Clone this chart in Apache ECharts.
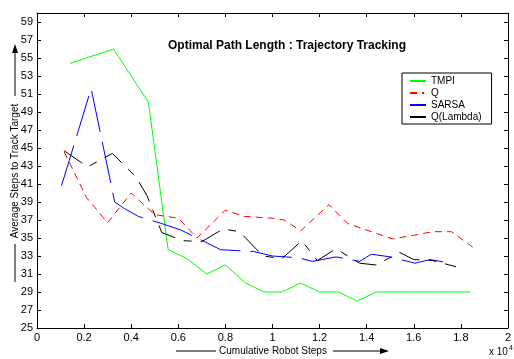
<!DOCTYPE html>
<html>
<head>
<meta charset="utf-8">
<script src="https://cdn.jsdelivr.net/npm/echarts@6/dist/echarts.min.js"></script>
<style>
  html, body { margin: 0; padding: 0; background: #fff; }
  #chart { width: 514px; height: 359px; }
</style>
</head>
<body>
<div id="chart"></div>
<script>
// x values are in units of 10^4 robot steps
const tmpiX = [0.14, 0.325, 0.473, 0.557, 0.637, 0.721, 0.80, 0.886, 0.964, 1.04, 1.12, 1.20, 1.28, 1.36, 1.44, 1.52, 1.60, 1.68, 1.76, 1.84];
const tmpiY = [54.4, 56.0, 50.1, 33.7, 32.7, 31.0, 32.0, 30.0, 29.0, 29.0, 30.0, 29.0, 29.0, 28.0, 29.0, 29.0, 29.0, 29.0, 29.0, 29.0];

const qX = [0.115, 0.21, 0.30, 0.40, 0.50, 0.60, 0.68, 0.80, 0.88, 1.00, 1.05, 1.12, 1.24, 1.32, 1.42, 1.51, 1.60, 1.68, 1.76, 1.85];
const qY = [44.6, 39.5, 36.7, 40.0, 37.6, 37.2, 35.0, 38.1, 37.4, 37.2, 37.0, 35.8, 38.7, 36.6, 35.7, 34.9, 35.3, 35.7, 35.7, 34.0];

const sarsaX = [0.104, 0.23, 0.33, 0.37, 0.43, 0.53, 0.61, 0.68, 0.78, 0.85, 0.92, 1.00, 1.11, 1.17, 1.27, 1.37, 1.42, 1.50, 1.605, 1.67, 1.76];
const sarsaY = [40.8, 51.6, 39.0, 38.3, 37.4, 36.6, 35.9, 35.0, 33.7, 33.6, 33.5, 33.0, 32.8, 32.4, 32.9, 32.4, 33.2, 32.9, 32.2, 32.6, 32.2];

const qLambdaX = [0.115, 0.215, 0.32, 0.42, 0.467, 0.53, 0.62, 0.70, 0.79, 0.86, 0.96, 1.04, 1.125, 1.19, 1.27, 1.37, 1.44, 1.54, 1.60, 1.68, 1.78];
const qLambdaY = [44.7, 42.9, 44.4, 41.8, 39.7, 35.6, 34.7, 34.6, 36.0, 35.7, 33.0, 32.7, 34.7, 32.5, 33.8, 32.2, 32.0, 33.4, 32.6, 32.5, 31.8];

const seriesNames = ['TMPI', 'Q', 'SARSA', 'Q(Lambda)'];

const FONT = 'Liberation Sans, Arial, sans-serif';

const chart = echarts.init(document.getElementById('chart'), null, { renderer: 'canvas' });

const zip = (xs, ys) => xs.map((x, i) => [x, ys[i]]);

const axisCommon = {
  type: 'value',
  axisLine: { show: true, onZero: false, lineStyle: { color: '#000', width: 1 } },
  axisTick: { show: true, inside: true, length: 4, lineStyle: { color: '#000' } },
  splitLine: { show: false },
};

const option = {
  animation: false,
  backgroundColor: '#fff',
  title: {
    text: 'Optimal Path Length : Trajectory Tracking',
    left: 282,
    top: 35,
    textAlign: 'center',
    textStyle: { fontFamily: FONT, fontSize: 12, fontWeight: 'bold', color: '#000' },
  },
  grid: { left: 37, right: 2, top: 13, bottom: 31 },
  legend: {
    orient: 'vertical',
    left: 402,
    top: 73,
    padding: [3, 10, 2, 7],
    itemWidth: 16,
    itemHeight: 10,
    itemGap: 2,
    borderColor: '#000',
    borderWidth: 1,
    backgroundColor: '#fff',
    itemStyle: { opacity: 0 },
    textStyle: { fontFamily: FONT, fontSize: 10, color: '#000' },
    data: [
      { name: seriesNames[0], lineStyle: { type: 'solid' } },
      { name: seriesNames[1], lineStyle: { type: [7, 5, 2, 5] } },
      { name: seriesNames[2], lineStyle: { type: 'solid' } },
      { name: seriesNames[3], lineStyle: { type: 'solid' } },
    ],
  },
  xAxis: [
    {
      ...axisCommon,
      position: 'bottom',
      min: 0,
      max: 2,
      interval: 0.2,
      axisLabel: { color: '#000', fontFamily: FONT, fontSize: 11, margin: 4 },
    },
    {
      ...axisCommon,
      position: 'top',
      min: 0,
      max: 2,
      interval: 0.2,
      axisLabel: { show: false },
    },
  ],
  yAxis: [
    {
      ...axisCommon,
      position: 'left',
      min: 25,
      max: 60,
      interval: 2,
      axisLabel: {
        color: '#000', fontFamily: FONT, fontSize: 11, margin: 4,
        formatter: v => (v === 60 ? '' : String(v)),
      },
    },
    {
      ...axisCommon,
      position: 'right',
      min: 25,
      max: 60,
      interval: 2,
      axisLabel: { show: false },
    },
  ],
  graphic: [
    {
      type: 'text',
      x: 15, y: 171, rotation: Math.PI / 2,
      style: {
        text: 'Average Steps to Track Target',
        font: '10px ' + FONT, fill: '#000',
        align: 'center', verticalAlign: 'middle',
      },
    },
    { type: 'line', shape: { x1: 15, y1: 96, x2: 15, y2: 50 }, style: { stroke: '#000', lineWidth: 1 } },
    { type: 'polygon', shape: { points: [[15, 44], [12, 53], [18, 53]] }, style: { fill: '#000' } },
    { type: 'line', shape: { x1: 15, y1: 244, x2: 15, y2: 282 }, style: { stroke: '#000', lineWidth: 1 } },
    {
      type: 'text',
      x: 273, y: 351,
      style: {
        text: 'Cumulative Robot Steps',
        font: '10px ' + FONT, fill: '#000',
        align: 'center', verticalAlign: 'middle',
      },
    },
    { type: 'line', shape: { x1: 176, y1: 351, x2: 216, y2: 351 }, style: { stroke: '#000', lineWidth: 1 } },
    { type: 'line', shape: { x1: 333, y1: 351, x2: 382, y2: 351 }, style: { stroke: '#000', lineWidth: 1 } },
    { type: 'polygon', shape: { points: [[389, 351], [380, 348], [380, 354]] }, style: { fill: '#000' } },
    {
      type: 'text',
      x: 489, y: 352,
      style: {
        text: 'x 10{s|4}',
        font: '10px ' + FONT, fill: '#000',
        align: 'left', verticalAlign: 'middle',
        rich: { s: { fontSize: 7, fontFamily: FONT, padding: [0, 0, 8, 1], fill: '#000' } },
      },
    },
  ],
  series: [
    {
      name: seriesNames[0], type: 'line', symbol: 'none',
      data: zip(tmpiX, tmpiY),
      lineStyle: { color: '#00ff00', width: 1, type: 'solid' },
      itemStyle: { color: '#00ff00' },
    },
    {
      name: seriesNames[1], type: 'line', symbol: 'none',
      data: zip(qX, qY),
      lineStyle: { color: '#ff0000', width: 1, type: [7, 5] },
      itemStyle: { color: '#ff0000' },
    },
    {
      name: seriesNames[2], type: 'line', symbol: 'none',
      data: zip(sarsaX, sarsaY),
      lineStyle: { color: '#0000ff', width: 1, type: [42, 10] },
      itemStyle: { color: '#0000ff' },
    },
    {
      name: seriesNames[3], type: 'line', symbol: 'none',
      data: zip(qLambdaX, qLambdaY),
      lineStyle: { color: '#000000', width: 1, type: [22, 9, 8, 9] },
      itemStyle: { color: '#000000' },
    },
  ],
};

chart.setOption(option);
</script>
</body>
</html>
